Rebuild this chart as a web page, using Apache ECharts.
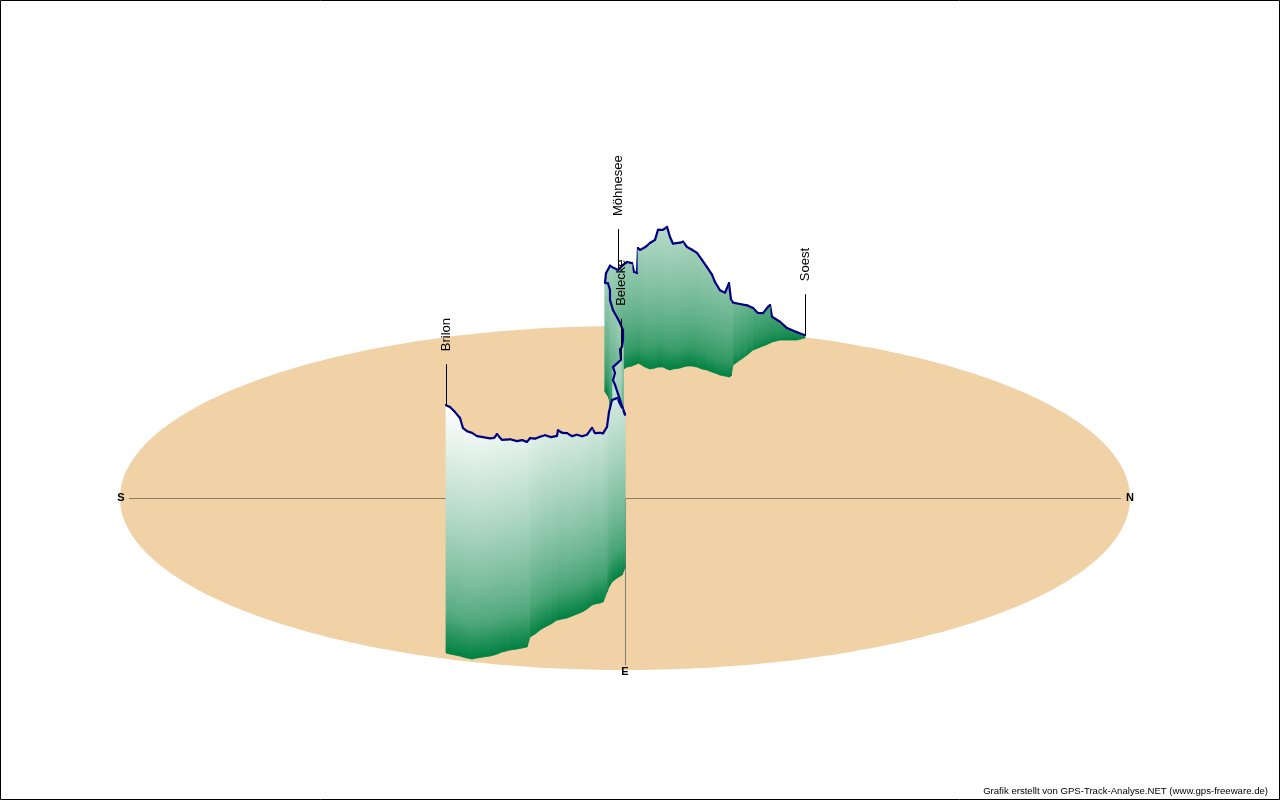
<!DOCTYPE html>
<html><head><meta charset="utf-8">
<script src="https://cdn.jsdelivr.net/npm/echarts@6/dist/echarts.min.js"></script>
<style>html,body{margin:0;padding:0;background:#fff}#c{width:1280px;height:800px}</style>
</head><body><div id="c"></div>
<script>
// Track: ground position on the map (north / east, map units) and elevation (m)
const north = [-35.8,-35.0,-34.0,-33.0,-32.4,-31.6,-30.6,-29.6,-28.4,-27.0,
  -26.2,-25.6,-24.6,-23.0,-21.6,-20.6,-19.6,-19.0,-18.0,-17.0,
  -16.0,-14.8,-13.6,-13.4,-12.6,-11.6,-10.6,-9.6,-8.6,-7.6,
  -6.6,-6.0,-5.0,-4.4,-3.6,-3.2,-2.6,-1.6,-0.6,0,
  -2.0,-2.4,-2.0,-2.4,-0.8,-1.0,-0.6,-0.4,-0.4,-1.0,
  -1.6,-2.4,-3.0,-3.0,-3.4,-4.0,-3.8,-3.0,-2.2,-1.4,
  -0.6,0.4,1.4,1.8,2.4,2.6,3.0,4.0,5.0,6.0,
  6.6,7.6,8.4,9.0,9.6,11.0,11.6,12.4,13.4,14.4,
  15.4,16.4,17.4,18.0,19.0,20.0,20.8,21.2,21.6,23.0,
  24.4,25.6,26.6,27.6,28.6,29.0,29.4,31.0,32.4,34.4,36.0];
const east = [77.5,78,78.5,79,79.5,80,80.5,80,79.5,79,
  78.5,78,77,76,75.5,75,74.5,69.5,68,66,
  64.5,63,61,61,60.5,60,59,58,57,55.5,
  53.5,53,52.5,52,47,44.5,42,40,38.5,35,
  26,18.5,11,3.5,-4,-11.5,-16.5,-21.5,-26.5,-31.5,
  -36.5,-40,-44,-48,-51,-53,-55,-57,-60,-62.5,
  -64,-65.5,-66,-66.5,-67,-67.5,-67,-65.5,-64.5,-65,
  -65.5,-65.5,-64.5,-64,-64.5,-65,-65.5,-66,-66,-65.5,
  -64.5,-64,-63,-62.5,-61.5,-61,-60.5,-61,-66.5,-69,
  -71.5,-74,-75,-76,-77,-77.5,-78,-79,-79,-79,-80];
const elev = [449,448,442,435,422,419,418,412,409,406,
  405,409,398,396,392,392,388,379,374,371,
  369,362,358,366,361,359,352,351,346,344,
  348,339,338,336,331,345,355,352,334,314,
  331,316,305,292,281,274,264,259,259,255,
  249,249,252,255,256,251,259,264,252,242,
  244,245,242,228,225,259,258,266,275,278,
  291,291,298,285,274,274,274,265,261,258,
  251,242,234,225,216,214,229,204,184,175,
  166,155,145,142,148,149,131,121,112,106,99];
const placeNames = ['Brilon', 'Belecke', 'Möhnesee', 'Soest'];
const placeIndex = [0, 44, 59, 100];
const mapNorthRadius = 101, mapEastRadius = 86;
const baseElev = 95, topElev = 450;
const compassNames = ['S', 'N', 'E'];
const footer = 'Grafik erstellt von GPS-Track-Analyse.NET (www.gps-freeware.de)';

const ELEV_UNITS = 0.35; // vertical axis units per metre
function yTop(i) { return -east[i] + (elev[i] - baseElev) * ELEV_UNITS; }
function colorFor(e) {
  const f = Math.max(0, Math.min(1, (e - baseElev) / (topElev - baseElev)));
  const g = Math.pow(f, 0.6);
  return 'rgb(' + Math.round(255 * g) + ',' + Math.round(128 + 127 * g) + ',' + Math.round(64 + 191 * g) + ')';
}
const segs = [];
for (let i = 0; i < north.length - 1; i++) segs.push(i);
segs.sort((a, b) => (east[a] + east[a + 1]) - (east[b] + east[b + 1]));

const chart = echarts.init(document.getElementById('c'), null, { renderer: 'canvas' });
chart.setOption({
  animation: false,
  backgroundColor: '#ffffff',
  grid: { left: 120, width: 1010, top: 326, height: 344 },
  xAxis: { type: 'value', min: -mapNorthRadius, max: mapNorthRadius, show: false },
  yAxis: { type: 'value', min: -mapEastRadius, max: mapEastRadius, show: false },
  graphic: [
    { type: 'rect', shape: { x: 0.5, y: 0.5, width: 1279, height: 799 }, style: { fill: 'none', stroke: '#000', lineWidth: 1 }, z: 100 },
    { type: 'text', right: 12, bottom: 4, style: { text: footer, font: '9.6px "Liberation Sans", Arial, sans-serif', fill: '#000' }, z: 100 }
  ],
  series: [
    {
      type: 'custom', clip: false, silent: true, z: 1,
      data: [[0, 0]], encode: { x: 0, y: 1 },
      renderItem: function (params, api) {
        const pts = [];
        for (let k = 0; k < 360; k++) {
          const t = k * Math.PI / 180;
          pts.push(api.coord([mapNorthRadius * Math.cos(t), mapEastRadius * Math.sin(t)]));
        }
        const c = api.coord([0, 0]);
        const s = api.coord([-mapNorthRadius + 1, 0]), n = api.coord([mapNorthRadius - 1, 0]);
        const e = api.coord([0, -mapEastRadius + 2.5]);
        const sl = api.coord([-mapNorthRadius, 0]), nl = api.coord([mapNorthRadius, 0]), el = api.coord([0, -mapEastRadius]);
        const font = 'bold 11px "Liberation Sans", Arial, sans-serif';
        return { type: 'group', children: [
          { type: 'polygon', shape: { points: pts }, style: { fill: '#f0d2a6' } },
          { type: 'line', shape: { x1: s[0] + 4, y1: Math.round(c[1]) + 0.5, x2: n[0] - 4, y2: Math.round(c[1]) + 0.5 }, style: { stroke: '#8c7a64', lineWidth: 1 } },
          { type: 'line', shape: { x1: Math.round(c[0]) + 0.5, y1: c[1], x2: Math.round(c[0]) + 0.5, y2: e[1] }, style: { stroke: '#808080', lineWidth: 1 } },
          { type: 'text', x: sl[0] + 1, y: sl[1], style: { text: compassNames[0], font: font, fill: '#000', align: 'center', verticalAlign: 'middle' } },
          { type: 'text', x: nl[0], y: nl[1], style: { text: compassNames[1], font: font, fill: '#000', align: 'center', verticalAlign: 'middle' } },
          { type: 'text', x: el[0], y: el[1] + 2, style: { text: compassNames[2], font: font, fill: '#000', align: 'center', verticalAlign: 'middle' } }
        ]};
      }
    },
    {
      type: 'custom', clip: false, silent: true, z: 2,
      data: segs.map(i => [i, 0]), encode: { x: 0, y: 1 },
      renderItem: function (params, api) {
        const i = api.value(0);
        const g1 = api.coord([north[i], -east[i]]), g2 = api.coord([north[i + 1], -east[i + 1]]);
        const t1 = api.coord([north[i], yTop(i)]), t2 = api.coord([north[i + 1], yTop(i + 1)]);
        const eTop = Math.max(elev[i], elev[i + 1]);
        const y0 = Math.min(t1[1], t2[1]), y1 = Math.max(g1[1], g2[1]) + 0.01;
        const stops = [];
        for (let k = 0; k <= 6; k++) {
          const o = k / 6;
          stops.push({ offset: o, color: colorFor(eTop - o * (eTop - baseElev)) });
        }
        const grad = { type: 'linear', x: 0, y: y0, x2: 0, y2: y1, global: true, colorStops: stops };
        return { type: 'group', children: [
          { type: 'polygon', shape: { points: [g1, g2, t2, t1] }, style: { fill: grad, stroke: grad, lineWidth: 0.8 } },
          { type: 'polyline', shape: { points: [t1, t2] }, style: { stroke: '#000080', lineWidth: 2.2, fill: 'none', lineCap: 'round', lineJoin: 'round' } }
        ]};
      }
    },
    {
      type: 'custom', clip: false, silent: true, z: 3,
      data: placeIndex.map((p, j) => [j, 0]), encode: { x: 0, y: 1 },
      renderItem: function (params, api) {
        const j = api.value(0), i = placeIndex[j];
        const t = api.coord([north[i], yTop(i)]);
        const x = Math.round(t[0]) + 0.5;
        return { type: 'group', children: [
          { type: 'line', shape: { x1: x, y1: t[1], x2: x, y2: t[1] - 41 }, style: { stroke: '#000', lineWidth: 1 } },
          { type: 'text', x: x, y: t[1] - 54, rotation: Math.PI / 2,
            style: { text: placeNames[j], font: '13px "Liberation Sans", Arial, sans-serif', fill: '#000', align: 'left', verticalAlign: 'middle' } }
        ]};
      }
    }
  ]
});
</script>
</body></html>
